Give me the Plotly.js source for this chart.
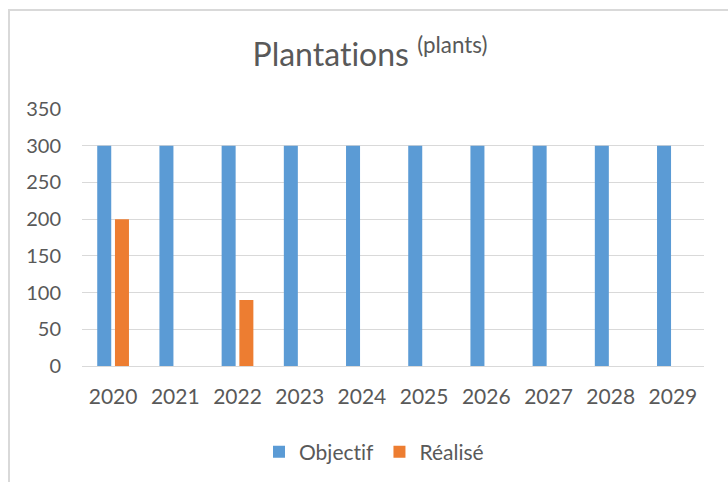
<!DOCTYPE html>
<html>
<head>
<meta charset="utf-8">
<script src="https://cdn.plot.ly/plotly-3.0.1.min.js"></script>
<style>
  html, body { margin: 0; padding: 0; background: #ffffff; }
  #frame { position: absolute; left: 8px; top: 9px; width: 740px; height: 500px;
           border-left: 2px solid #D9D9D9; border-top: 2px solid #D9D9D9; pointer-events: none; }
  #chart { position: absolute; left: 0; top: 0; width: 728px; height: 482px; }
  #chart text { font-variant-ligatures: none; font-feature-settings: "liga" 0; }
</style>
</head>
<body>
<div id="chart"></div>
<div id="frame"></div>
<script>
const years = ['2020','2021','2022','2023','2024','2025','2026','2027','2028','2029'];
const objectif = [300, 300, 300, 300, 300, 300, 300, 300, 300, 300];
const realise = [200, null, 90, null, null, null, null, null, null, null];
const yTicks = [0, 50, 100, 150, 200, 250, 300, 350];

const FONT = 'Lato, Carlito, Calibri, "Open Sans", sans-serif';
const GREY = '#595959';

const data = [
  { type: 'bar', name: 'Objectif', x: years, y: objectif, marker: { color: '#5B9BD5' } },
  { type: 'bar', name: 'Réalisé', x: years, y: realise, marker: { color: '#ED7D31' } }
];

const layout = {
  width: 728, height: 482,
  paper_bgcolor: '#ffffff', plot_bgcolor: '#ffffff',
  margin: { l: 82, r: 24, t: 109, b: 116 },
  font: { family: FONT, color: GREY },
  title: {
    text: 'Plantations <sup>(plants)</sup>',
    font: { family: FONT, size: 32, color: GREY },
    x: 370 / 728, xanchor: 'center', xref: 'container',
    y: 1 - 55 / 482, yref: 'container', yanchor: 'middle'
  },
  barmode: 'group',
  bargap: 0.43,
  bargroupgap: 0.21,
  xaxis: {
    type: 'category',
    tickfont: { family: FONT, size: 21, color: GREY },
    showline: true, linecolor: '#D9D9D9', linewidth: 1,
    ticks: '', showgrid: false,
    ticklabelstandoff: 12
  },
  yaxis: {
    range: [0, 350],
    tickvals: yTicks,
    tickfont: { family: FONT, size: 20, color: GREY },
    showgrid: true, gridcolor: '#D9D9D9', gridwidth: 1,
    zeroline: false, showline: false, ticks: '',
    ticklabelstandoff: 20
  },
  legend: {
    orientation: 'h', x: 374 / 728, xanchor: 'center', xref: 'container',
    y: 1 - 452 / 482, yref: 'container', yanchor: 'middle',
    font: { family: FONT, size: 21, color: GREY },
    itemwidth: 30, traceorder: 'normal'
  },
  showlegend: true
};

Plotly.newPlot('chart', data, layout, { displayModeBar: false, staticPlot: true });
</script>
</body>
</html>
